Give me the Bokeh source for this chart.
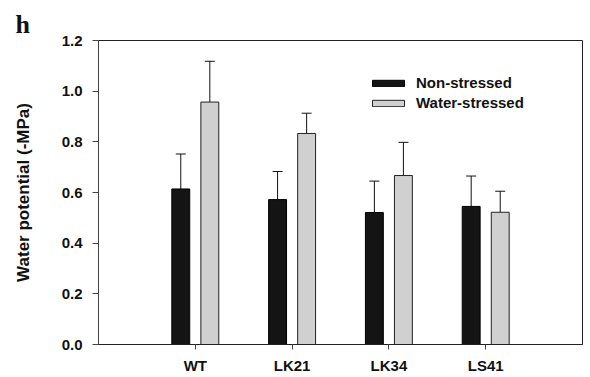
from bokeh.plotting import figure
from bokeh.models import (ColumnDataSource, FactorRange, Range1d, FixedTicker, NumeralTickFormatter,
                          Whisker, TeeHead, Legend)
from bokeh.transform import dodge
from bokeh.embed import file_html
from bokeh.resources import INLINE

categories = ["WT", "LK21", "LK34", "LS41"]
non_stressed = [0.614, 0.572, 0.521, 0.545]
non_stressed_err = [0.138, 0.111, 0.124, 0.120]
water_stressed = [0.957, 0.833, 0.667, 0.522]
water_stressed_err = [0.161, 0.080, 0.131, 0.083]
y_ticks = [0.0, 0.2, 0.4, 0.6, 0.8, 1.0, 1.2]

src = ColumnDataSource(dict(
    cat=categories,
    ns=non_stressed,
    ns_lo=[v - e for v, e in zip(non_stressed, non_stressed_err)],
    ns_hi=[v + e for v, e in zip(non_stressed, non_stressed_err)],
    ws=water_stressed,
    ws_lo=[v - e for v, e in zip(water_stressed, water_stressed_err)],
    ws_hi=[v + e for v, e in zip(water_stressed, water_stressed_err)],
))

FONT = "Liberation Sans"

p = figure(width=588, height=376, output_backend="svg", toolbar_location=None,
           x_range=FactorRange(factors=categories, range_padding=0.5, range_padding_units="absolute"),
           y_range=Range1d(0, 1.2),
           min_border_left=98, min_border_right=6, min_border_top=40, min_border_bottom=30,
           title="h")

p.title.text_font = "Liberation Serif"
p.title.text_font_style = "bold"
p.title.text_font_size = "26px"
p.title.text_color = "#111111"
p.title.align = "left"
p.title.offset = -83
p.title.standoff = 3

p.background_fill_color = "white"
p.border_fill_color = "white"
p.outline_line_color = "#222222"
p.outline_line_width = 1
p.xgrid.visible = False
p.ygrid.visible = False

r1 = p.vbar(x=dodge("cat", -0.15, range=p.x_range), top="ns", width=0.185, source=src,
            fill_color="#141414", line_color="#000000", line_width=1)
r2 = p.vbar(x=dodge("cat", 0.15, range=p.x_range), top="ws", width=0.185, source=src,
            fill_color="#d0d0d0", line_color="#222222", line_width=1)

for off, lo, hi in [(-0.15, "ns_lo", "ns_hi"), (0.15, "ws_lo", "ws_hi")]:
    w = Whisker(base=dodge("cat", off, range=p.x_range), lower=lo, upper=hi, source=src,
                line_color="#111111", line_width=1,
                upper_head=TeeHead(size=10, line_color="#111111", line_width=1),
                lower_head=TeeHead(size=10, line_color="#111111", line_width=1))
    p.add_layout(w)

legend = Legend(items=[("Non-stressed", [r1]), ("Water-stressed", [r2])],
                location=(270, 233), glyph_width=40, glyph_height=8, label_height=16,
                spacing=3, padding=0, margin=0, label_standoff=8,
                border_line_color=None, background_fill_alpha=0,
                label_text_font=FONT, label_text_font_style="bold", label_text_font_size="15px",
                label_text_color="#111111")
p.add_layout(legend, "center")

# Y axis
p.yaxis.ticker = FixedTicker(ticks=y_ticks)
p.yaxis.formatter = NumeralTickFormatter(format="0.0")
p.yaxis.axis_label = "Water potential (-MPa)"
p.yaxis.axis_label_text_font = FONT
p.yaxis.axis_label_text_font_style = "bold"
p.yaxis.axis_label_text_font_size = "17px"
p.yaxis.axis_label_text_color = "#111111"
p.yaxis.axis_label_standoff = 26
p.yaxis.major_label_text_font = FONT
p.yaxis.major_label_text_font_style = "bold"
p.yaxis.major_label_text_font_size = "15px"
p.yaxis.major_label_text_color = "#111111"
p.yaxis.major_label_standoff = 10
p.yaxis.minor_tick_line_color = None
p.yaxis.major_tick_in = 0
p.yaxis.major_tick_out = 6
p.yaxis.axis_line_color = "#444444"
p.yaxis.major_tick_line_color = "#444444"

# X axis
p.xaxis.major_label_text_font = FONT
p.xaxis.major_label_text_font_style = "bold"
p.xaxis.major_label_text_font_size = "15px"
p.xaxis.major_label_text_color = "#111111"
p.xaxis.major_label_standoff = 7
p.xaxis.major_tick_in = 0
p.xaxis.major_tick_out = 5
p.xaxis.axis_line_color = "#222222"
p.xaxis.major_tick_line_color = "#444444"

open("out.html", "w").write(file_html(p, INLINE))
